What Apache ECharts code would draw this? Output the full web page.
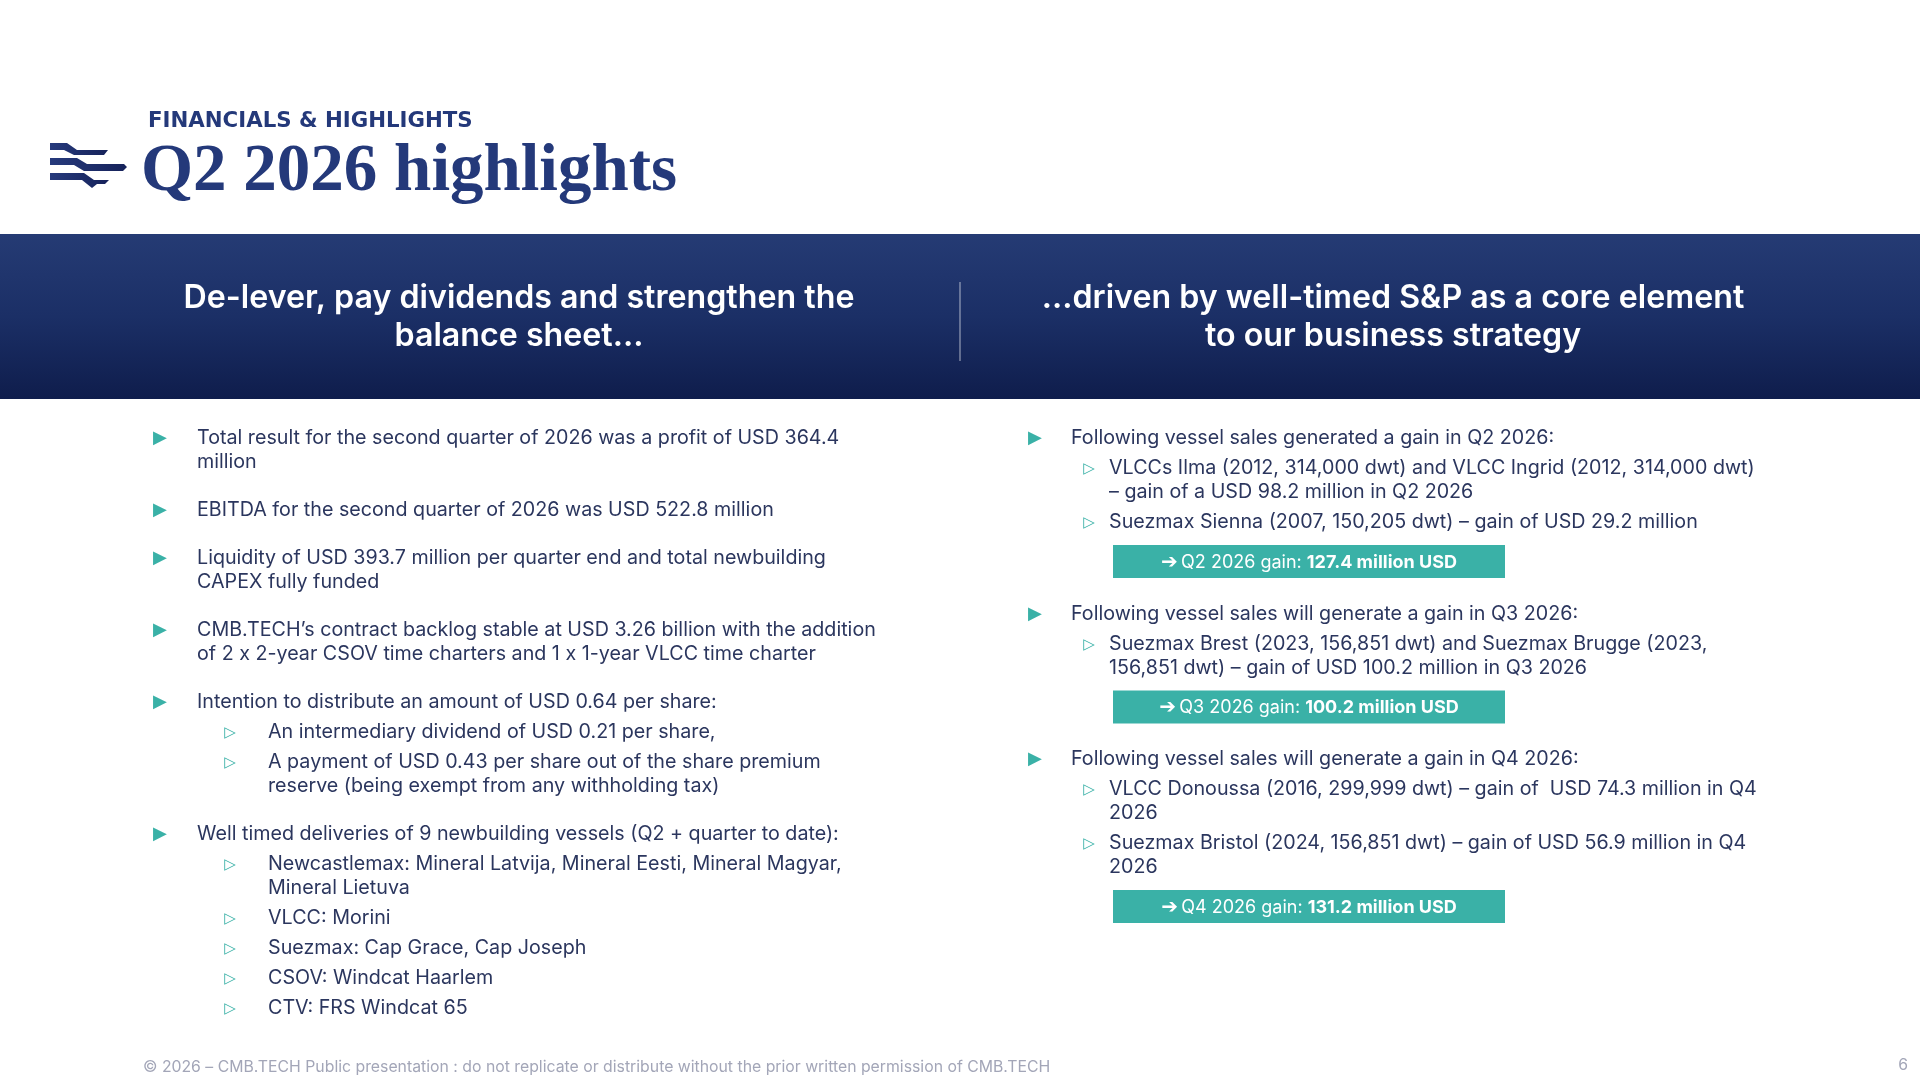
<!DOCTYPE html>
<html>
<head>
<meta charset="utf-8">
<script src="https://cdn.jsdelivr.net/npm/echarts@6/dist/echarts.min.js"></script>
<style>
html,body{margin:0;padding:0;background:#ffffff;}
#chart{width:1920px;height:1080px;}
</style>
</head>
<body>
<div id="chart"></div>
<script>
// ---- Text content ----
const kicker = "FINANCIALS & HIGHLIGHTS";
const title = "Q2 2026 highlights";
const bannerLeft = ["De-lever, pay dividends and strengthen the", "balance sheet..."];
const bannerRight = ["...driven by well-timed S&P as a core element", "to our business strategy"];
const footerText = "\u00A9 2026 \u2013 CMB.TECH Public presentation : do not replicate or distribute without the prior written permission of CMB.TECH";
const pageNumber = "6";

// line kinds: main = new bullet, cont = continuation, sub = new sub-bullet, subcont = sub continuation
const leftKinds = ["main","cont","main","main","cont","main","cont","main","sub","sub","subcont","main","sub","subcont","sub","sub","sub","sub"];
const leftTexts = [
  "Total result for the second quarter of 2026 was a profit of USD 364.4",
  "million",
  "EBITDA for the second quarter of 2026 was USD 522.8 million",
  "Liquidity of USD 393.7 million per quarter end and total newbuilding",
  "CAPEX fully funded",
  "CMB.TECH\u2019s contract backlog stable at USD 3.26 billion with the addition",
  "of 2 x 2-year CSOV time charters and 1 x 1-year VLCC time charter",
  "Intention to distribute an amount of USD 0.64 per share:",
  "An intermediary dividend of USD 0.21 per share,",
  "A payment of USD 0.43 per share out of the share premium",
  "reserve (being exempt from any withholding tax)",
  "Well timed deliveries of 9 newbuilding vessels (Q2 + quarter to date):",
  "Newcastlemax: Mineral Latvija, Mineral Eesti, Mineral Magyar,",
  "Mineral Lietuva",
  "VLCC: Morini",
  "Suezmax: Cap Grace, Cap Joseph",
  "CSOV: Windcat Haarlem",
  "CTV: FRS Windcat 65"
];

const rightKinds = ["main","sub","subcont","sub","box","main","sub","subcont","box","main","sub","subcont","sub","subcont","box"];
const rightTexts = [
  "Following vessel sales generated a gain in Q2 2026:",
  "VLCCs Ilma (2012, 314,000 dwt) and VLCC Ingrid (2012, 314,000 dwt)",
  "\u2013 gain of a USD 98.2 million in Q2 2026",
  "Suezmax Sienna (2007, 150,205 dwt) \u2013 gain of USD 29.2 million",
  "Q2 2026 gain: |127.4 million USD",
  "Following vessel sales will generate a gain in Q3 2026:",
  "Suezmax Brest (2023, 156,851 dwt) and Suezmax Brugge (2023,",
  "156,851 dwt) \u2013 gain of USD 100.2 million in Q3 2026",
  "Q3 2026 gain: |100.2 million USD",
  "Following vessel sales will generate a gain in Q4 2026:",
  "VLCC Donoussa (2016, 299,999 dwt) \u2013 gain of  USD 74.3 million in Q4",
  "2026",
  "Suezmax Bristol (2024, 156,851 dwt) \u2013 gain of USD 56.9 million in Q4",
  "2026",
  "Q4 2026 gain: |131.2 million USD"
];

// ---- Styles / layout ----
const NAVY = "#24397a";
const BODY = "#2b365e";
const TEAL = "#3ab1a7";
const BODY_FONT = "Inter, 'Noto Sans', sans-serif";
const BODY_SIZE = 19.7;

function buildColumn(kinds, texts, x) {
  const els = [];
  let y = 438.5;
  let prev = null;
  kinds.forEach((k, i) => {
    if (prev !== null) {
      if (prev === "box") {
        y += 36;
      } else if (k === "main") y += 48;
      else if (k === "sub") y += 30;
      else if (k === "box") y += 22.5;
      else y += 24;
    }
    if (k === "box") {
      const parts = texts[i].split("|");
      const bx = x.box0, bw = x.box1 - x.box0, bh = 33;
      els.push({
        type: "rect", shape: { x: bx, y: y, width: bw, height: bh },
        style: { fill: TEAL }
      });
      els.push({
        type: "text", x: bx + bw / 2, y: y + bh / 2 + 1,
        style: {
          text: "{a|\u2794} {n|" + parts[0] + "}{b|" + parts[1] + "}",
          align: "center", verticalAlign: "middle",
          rich: {
            a: { fill: "#fff", fontSize: 20, fontFamily: "'DejaVu Sans'", fontWeight: "bold" },
            n: { fill: "#fff", fontSize: 18, fontFamily: BODY_FONT },
            b: { fill: "#fff", fontSize: 18, fontFamily: BODY_FONT, fontWeight: "bold" }
          }
        }
      });
      y += bh;
    } else {
      const isSub = (k === "sub" || k === "subcont");
      if (k === "main") {
        els.push({ type: "text", x: x.bullet, y: y, style: {
          text: "\u25B6", fill: TEAL, fontSize: 18, fontFamily: "'DejaVu Sans'",
          align: "center", verticalAlign: "middle" } });
      } else if (k === "sub") {
        els.push({ type: "text", x: x.subBullet, y: y + 1, style: {
          text: "\u25B7", fill: TEAL, fontSize: 15, fontFamily: "'DejaVu Sans'",
          align: "center", verticalAlign: "middle" } });
      }
      els.push({ type: "text", x: isSub ? x.subText : x.text, y: y, style: {
        text: texts[i], fill: BODY, fontSize: BODY_SIZE, fontFamily: BODY_FONT,
        align: "left", verticalAlign: "middle" } });
    }
    prev = k;
  });
  return els;
}

const elements = [];

// Banner
elements.push({
  type: "rect", shape: { x: 0, y: 234, width: 1920, height: 165 },
  style: { fill: new echarts.graphic.LinearGradient(0, 0, 0, 1, [
    { offset: 0, color: "#253b74" }, { offset: 0.5, color: "#1b2f66" }, { offset: 1, color: "#0f1d4c" }]) }
});
elements.push({
  type: "line", shape: { x1: 960, y1: 282, x2: 960, y2: 361 },
  style: { stroke: "rgba(255,255,255,0.55)", lineWidth: 1.2 }
});
bannerLeft.forEach((t, i) => elements.push({
  type: "text", x: 519, y: 298.5 + i * 38,
  style: { text: t, fill: "#ffffff", fontSize: 32.2, fontWeight: 600, fontFamily: BODY_FONT,
    align: "center", verticalAlign: "middle" }
}));
bannerRight.forEach((t, i) => elements.push({
  type: "text", x: 1393, y: 298.5 + i * 38,
  style: { text: t, fill: "#ffffff", fontSize: 32.2, fontWeight: 600, fontFamily: BODY_FONT,
    align: "center", verticalAlign: "middle" }
}));

// Logo
const logoFill = new echarts.graphic.LinearGradient(0, 0, 1, 0, [
  { offset: 0, color: "#263a7c" }, { offset: 1, color: "#16225a" }]);
[
  [[50,143],[67,143],[77,150],[108,150],[104,155],[74,155],[64,150],[50,150]],
  [[50,158],[77,158],[87,164],[124,164],[127,167],[123,171],[84,171],[74,165],[50,165]],
  [[50,173],[84,173],[94,180],[109,180],[105,184],[97,184],[92,188],[82,180],[50,180]]
].forEach(p => elements.push({ type: "polygon", shape: { points: p }, style: { fill: logoFill } }));

// Header texts
elements.push({ type: "text", x: 148, y: 121.5, style: {
  text: kicker, fill: NAVY, fontSize: 21.3, fontWeight: "bold", fontFamily: "'DejaVu Sans'",
  align: "left", verticalAlign: "middle" } });
elements.push({ type: "text", x: 141, y: 173, style: {
  text: title, fill: NAVY, fontSize: 67, fontWeight: "bold", fontFamily: "'Liberation Serif', serif",
  align: "left", verticalAlign: "middle" } });

// Columns
buildColumn(leftKinds, leftTexts, { bullet: 160, text: 197, subBullet: 230, subText: 268 }).forEach(e => elements.push(e));
buildColumn(rightKinds, rightTexts, { bullet: 1035, text: 1071, subBullet: 1089, subText: 1109, box0: 1113, box1: 1505 }).forEach(e => elements.push(e));

// Footer
elements.push({ type: "text", x: 143, y: 1067, style: {
  text: footerText, fill: "#a3a6b8", fontSize: 15.8, fontFamily: BODY_FONT,
  align: "left", verticalAlign: "middle" } });
elements.push({ type: "text", x: 1908, y: 1065, style: {
  text: pageNumber, fill: "#a3a6b8", fontSize: 15.8, fontFamily: BODY_FONT,
  align: "right", verticalAlign: "middle" } });

const chart = echarts.init(document.getElementById("chart"), null, { renderer: "canvas", width: 1920, height: 1080 });
chart.setOption({
  backgroundColor: "#ffffff",
  animation: false,
  graphic: { elements: elements }
});
</script>
</body>
</html>
